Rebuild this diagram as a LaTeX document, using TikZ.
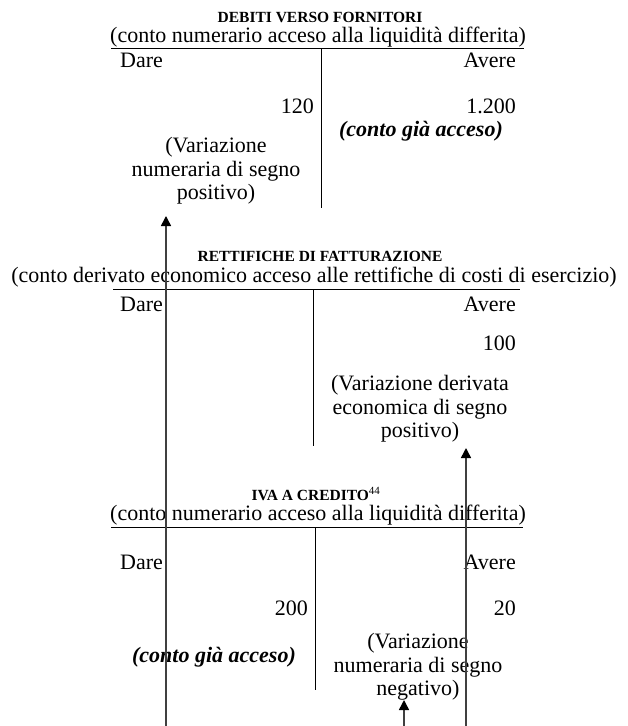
\documentclass[tikz,border=0pt]{standalone}
\usepackage{fontspec}
\setmainfont{Liberation Serif}
\usetikzlibrary{arrows.meta}
\tikzset{
  body/.style={inner sep=0pt, font=\fontsize{22}{23.5}\selectfont},
  ttl/.style={inner sep=0pt, font=\fontsize{15.5}{16}\selectfont\bfseries},
  multi/.style={body, align=center},
  bi/.style={body, font=\fontsize{22}{23.5}\selectfont\bfseries\itshape},
  rule/.style={line width=0.9pt, black},
  flow/.style={line width=1.5pt, black!75, -{Triangle[length=10pt, width=10pt, black]}},
}
\begin{document}
\begin{tikzpicture}[x=1pt, y=-1pt]
\useasboundingbox (0,0) rectangle (628,726);
% ---------- DEBITI VERSO FORNITORI
\node[ttl] (t1) at (320,17) {DEBITI VERSO FORNITORI};
\node[body] (s1) at (318,37) {(conto numerario acceso alla liquidità differita)};
\coordinate (h1l) at (111,48); \coordinate (h1r) at (524,48);
\coordinate (v1t) at (321,48); \coordinate (v1b) at (321,208);
\draw[rule] (h1l) -- (h1r);
\draw[rule] (v1t) -- (v1b);
\node[body, anchor=base west] (d1) at (120,67) {Dare};
\node[body, anchor=base east] (a1) at (516,67) {Avere};
\node[body, anchor=base east] (n1a) at (314,113) {120};
\node[body, anchor=base east] (n1b) at (516,113) {1.200};
\node[bi] (g1) at (421,131) {(conto già acceso)};
\node[multi] (v1) at (216,171) {(Variazione\\numeraria di segno\\positivo)};
% ---------- RETTIFICHE DI FATTURAZIONE
\node[ttl] (t2) at (320,256) {RETTIFICHE DI FATTURAZIONE};
\node[body] (s2) at (314,277) {(conto derivato economico acceso alle rettifiche di costi di esercizio)};
\coordinate (h2l) at (113,289); \coordinate (h2r) at (520,289);
\coordinate (v2t) at (313,289); \coordinate (v2b) at (313,446);
\draw[rule] (h2l) -- (h2r);
\draw[rule] (v2t) -- (v2b);
\node[body, anchor=base west] (d2) at (120,311) {Dare};
\node[body, anchor=base east] (a2) at (516,311) {Avere};
\node[body, anchor=base east] (n2) at (516,350) {100};
\node[multi] (v2) at (420,409) {(Variazione derivata\\economica di segno\\positivo)};
% ---------- IVA A CREDITO
\node[ttl] (t3) at (316,494) {IVA A CREDITO\textsuperscript{\normalfont\fontsize{11}{12}\selectfont 44}};
\node[body] (s3) at (318,515) {(conto numerario acceso alla liquidità differita)};
\coordinate (h3l) at (111,527); \coordinate (h3r) at (523,527);
\coordinate (v3t) at (315,527); \coordinate (v3b) at (315,690);
\draw[rule] (h3l) -- (h3r);
\draw[rule] (v3t) -- (v3b);
\node[body, anchor=base west] (d3) at (120,569) {Dare};
\node[body, anchor=base east] (a3) at (516,569) {Avere};
\node[body, anchor=base east] (n3a) at (308,615) {200};
\node[body, anchor=base east] (n3b) at (516,615) {20};
\node[bi] (g3) at (214,657) {(conto già acceso)};
\node[multi] (v3) at (418,667) {(Variazione\\numeraria di segno\\negativo)};
% ---------- arrows
\coordinate (p1) at (166,726); \coordinate (q1) at (166,216);
\coordinate (p2) at (466,726); \coordinate (q2) at (466,448);
\coordinate (p3) at (404,726); \coordinate (q3) at (404,700);
\draw[flow] (p1) -- (q1);
\draw[flow] (p2) -- (q2);
\draw[flow] (p3) -- (q3);
\end{tikzpicture}
\end{document}
